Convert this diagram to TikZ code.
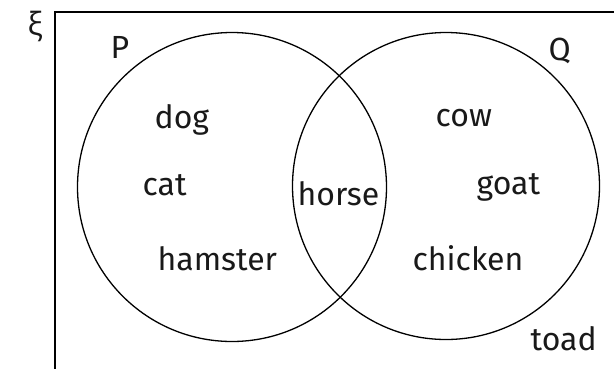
\documentclass[tikz,border=0pt]{standalone}
\usepackage{fontspec}
\setmainfont{Fira Sans}
\newfontfamily\greekfont{Open Sans}

\begin{document}
\begin{tikzpicture}[x=1pt,y=-1pt,line width=1.3pt,
  every node/.style={inner sep=0pt,anchor=base west,text=black!90,font=\fontsize{32}{36}\selectfont},
  setcircle/.style={circle,draw,anchor=center,minimum size=#1}]
\useasboundingbox (0,0) rectangle (614,368);
\clip (0,0) rectangle (614,368);
\draw (55,12) rectangle (640,390);
\node[setcircle=309pt] (setP) at (232,187) {};
\node[setcircle=307pt] (setQ) at (446,186) {};
\node (labelP) at (110,58) {P};
\node (labelQ) at (548,60) {Q};
\node (xi) at (27,35) {\greekfont ξ};
\foreach \word/\x/\y in {dog/154/128, cat/142/195, hamster/157/270, horse/297/205,
  cow/435/126, goat/476/194, chicken/412/270, toad/530/350}
  \node (\word) at (\x,\y) {\word};
\end{tikzpicture}
\end{document}
